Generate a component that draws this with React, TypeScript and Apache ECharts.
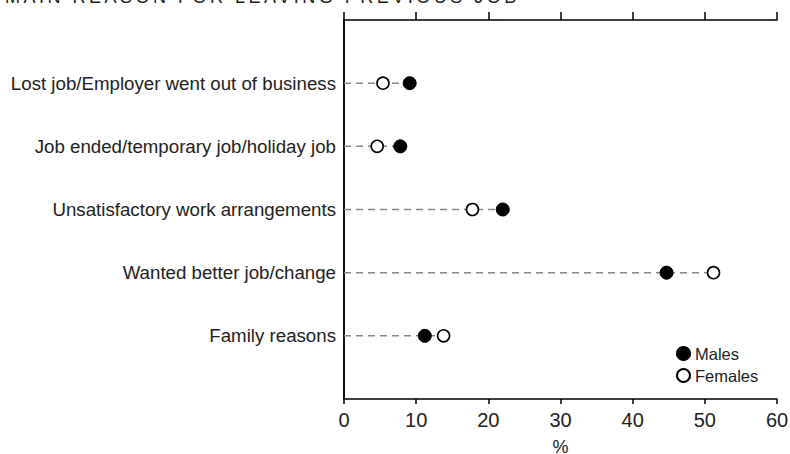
import React, { useEffect, useRef } from "react";
import * as echarts from "echarts";

const titleText = "MAIN REASON FOR LEAVING PREVIOUS JOB";
// top-to-bottom order
const categories = [
  "Lost job/Employer went out of business",
  "Job ended/temporary job/holiday job",
  "Unsatisfactory work arrangements",
  "Wanted better job/change",
  "Family reasons",
];
const males = [9.1, 7.8, 22.0, 44.7, 11.2];
const females = [5.4, 4.6, 17.8, 51.2, 13.8];
const xTicks = { min: 0, max: 60, interval: 10 };
const xName = "%";

const FONT = "'Liberation Sans', Arial, sans-serif";

export default function App() {
  const ref = useRef<HTMLDivElement>(null);
  useEffect(() => {
    if (!ref.current) return;
    const chart = echarts.init(ref.current, null, { renderer: "svg" });
    const axisCats = ["", ...categories.slice().reverse(), ""];
    const lineData = categories.map((c, i) => [Math.max(males[i], females[i]), c]);
    chart.setOption({
      animation: false,
      textStyle: { fontFamily: FONT },
      grid: {
        left: 344,
        right: 13,
        top: 20,
        bottom: 55,
        containLabel: false,
        outerBoundsMode: "none",
      },
      xAxis: [
        {
          type: "value",
          position: "bottom",
          min: xTicks.min,
          max: xTicks.max,
          interval: xTicks.interval,
          name: xName,
          nameLocation: "middle",
          nameGap: 39,
          nameTextStyle: { fontSize: 18, color: "#222", fontFamily: FONT },
          axisLine: { show: true, lineStyle: { color: "#000", width: 1.5 } },
          axisTick: { show: true, length: 5, lineStyle: { color: "#000", width: 1.5 } },
          axisLabel: { fontSize: 20, color: "#222", margin: 11, fontFamily: FONT },
          splitLine: { show: false },
        },
        {
          type: "value",
          position: "top",
          min: xTicks.min,
          max: xTicks.max,
          interval: xTicks.interval,
          axisLine: { show: true, lineStyle: { color: "#000", width: 1.5 } },
          axisTick: { show: true, length: 8, lineStyle: { color: "#000", width: 1.5 } },
          axisLabel: { show: false },
          splitLine: { show: false },
        },
      ],
      yAxis: [
        {
          type: "category",
          data: axisCats,
          boundaryGap: false,
          axisLine: { show: true, lineStyle: { color: "#000", width: 1.5 } },
          axisTick: { show: false },
          axisLabel: { fontSize: 18.7, color: "#222", margin: 8, fontFamily: FONT },
          splitLine: { show: false },
        },
        {
          type: "category",
          data: axisCats,
          boundaryGap: false,
          position: "right",
          axisLine: { show: true, lineStyle: { color: "#000", width: 1.5 } },
          axisTick: { show: false },
          axisLabel: { show: false },
          splitLine: { show: false },
        },
      ],
      legend: {
        orient: "vertical",
        left: 671,
        top: 340,
        padding: 5,
        itemWidth: 13,
        itemHeight: 13,
        itemGap: 5,
        icon: "circle",
        textStyle: { fontSize: 16.5, color: "#222", fontFamily: FONT },
        data: ["Males", "Females"],
      },
      series: [
        {
          type: "custom",
          name: "guide",
          data: lineData,
          z: 1,
          silent: true,
          renderItem: (params: any, api: any) => {
            const y = api.value(1);
            const s = api.coord([0, y]);
            const e = api.coord([api.value(0), y]);
            return {
              type: "line",
              shape: { x1: s[0], y1: s[1], x2: e[0], y2: e[1] },
              style: { stroke: "#888", lineWidth: 1.5, lineDash: [7, 5] },
            };
          },
        },
        {
          type: "scatter",
          name: "Males",
          data: categories.map((c, i) => [males[i], c]),
          symbol: "circle",
          symbolSize: 13,
          z: 3,
          itemStyle: { color: "#000", borderColor: "#000", borderWidth: 1, opacity: 1 },
        },
        {
          type: "scatter",
          name: "Females",
          data: categories.map((c, i) => [females[i], c]),
          symbol: "circle",
          symbolSize: 12,
          z: 3,
          itemStyle: { color: "#fff", borderColor: "#000", borderWidth: 1.6, opacity: 1 },
        },
      ],
    });
    return () => chart.dispose();
  }, []);
  return (
    <div style={{ position: "absolute", left: 0, top: 0, width: 790, height: 454, overflow: "hidden", background: "#fff" }}>
      <div ref={ref} style={{ width: 790, height: 454, position: "absolute", left: 0, top: 0 }} />
      <div
        style={{
          position: "absolute",
          left: 5,
          top: -12,
          fontFamily: FONT,
          fontSize: 18,
          lineHeight: "18px",
          letterSpacing: "3.5px",
          color: "#222",
          whiteSpace: "nowrap",
          pointerEvents: "none",
        }}
      >
        {titleText}
      </div>
    </div>
  );
}
